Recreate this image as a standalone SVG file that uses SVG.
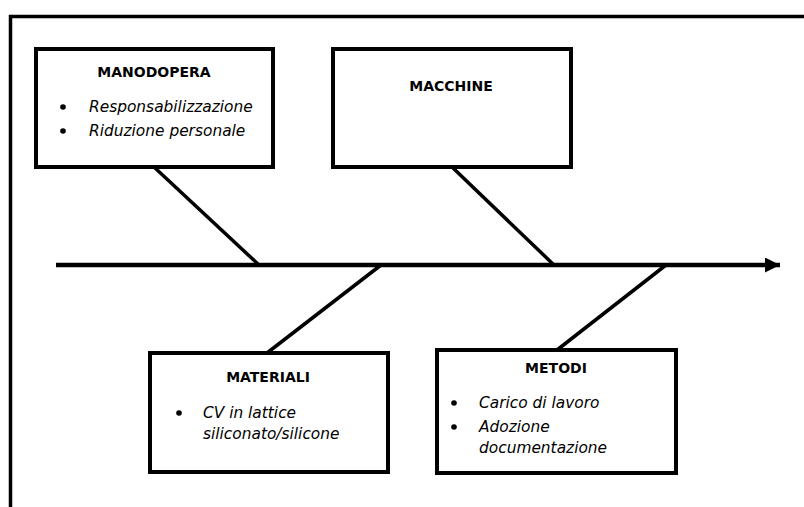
<svg xmlns="http://www.w3.org/2000/svg" width="804" height="507" viewBox="0 0 804 507">
<style>
.box{fill:#fff;stroke:#000;stroke-width:4}
.ln{stroke:#000;stroke-width:3.5;fill:none}
.t{font-family:"DejaVu Sans",sans-serif;font-size:14px;font-weight:bold;fill:#000;text-anchor:middle}
.i{font-family:"DejaVu Sans",sans-serif;font-size:15.4px;font-style:italic;fill:#000}
.b{fill:#000}
</style>
<defs>
<marker id="ah" markerWidth="16" markerHeight="16" refX="15" refY="7.5" orient="auto" markerUnits="userSpaceOnUse">
<path d="M0,0 L15,7.5 L0,15 Z" fill="#000"/>
</marker>
</defs>
<rect width="804" height="507" fill="#fff"/>
<g id="frame">
<path d="M10.5,507 V16.5 H804" class="ln"/>
</g>
<g id="connectors">
<line x1="56" y1="265" x2="780" y2="265" stroke="#000" stroke-width="4.5" marker-end="url(#ah)"/>
<line x1="154" y1="167" x2="259" y2="265" class="ln"/>
<line x1="452" y1="167" x2="554" y2="265" class="ln"/>
<line x1="381" y1="265" x2="267" y2="353" class="ln"/>
<line x1="666" y1="265" x2="557" y2="350" class="ln"/>
</g>
<g id="manodopera">
<rect x="36" y="49" width="237" height="118" class="box"/>
<text x="154" y="77" class="t">MANODOPERA</text>
<circle cx="63" cy="107" r="2.8" class="b"/>
<text x="89" y="112" class="i">Responsabilizzazione</text>
<circle cx="63" cy="131" r="2.8" class="b"/>
<text x="89" y="136" class="i">Riduzione personale</text>
</g>
<g id="macchine">
<rect x="333" y="49" width="238" height="118" class="box"/>
<text x="451" y="91" class="t">MACCHINE</text>
</g>
<g id="materiali">
<rect x="150" y="353" width="238" height="119" class="box"/>
<text x="268" y="382" class="t">MATERIALI</text>
<circle cx="179" cy="413" r="2.8" class="b"/>
<text x="203" y="418" class="i">CV in lattice</text>
<text x="203" y="439" class="i">siliconato/silicone</text>
</g>
<g id="metodi">
<rect x="437" y="350" width="239" height="123" class="box"/>
<text x="556" y="373" class="t">METODI</text>
<circle cx="454" cy="403" r="2.8" class="b"/>
<text x="479" y="408" class="i">Carico di lavoro</text>
<circle cx="454" cy="427" r="2.8" class="b"/>
<text x="479" y="432" class="i">Adozione</text>
<text x="479" y="453" class="i">documentazione</text>
</g>
</svg>
